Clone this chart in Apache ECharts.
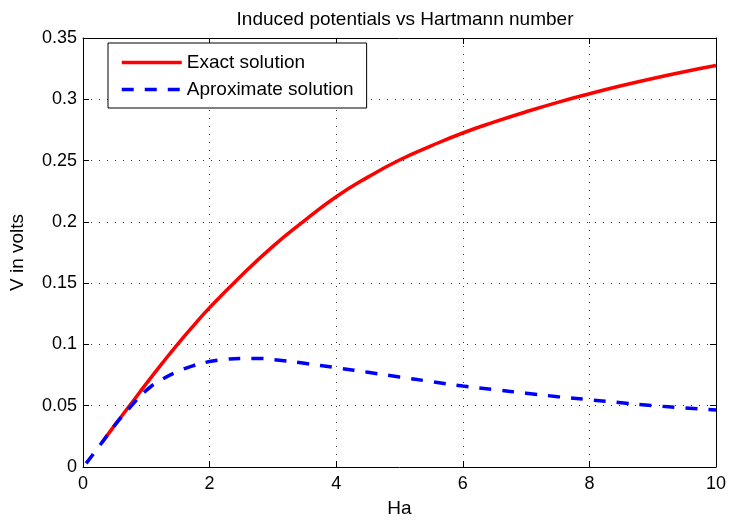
<!DOCTYPE html>
<html>
<head>
<meta charset="utf-8">
<script src="https://cdn.jsdelivr.net/npm/echarts@6/dist/echarts.min.js"></script>
<style>html,body{margin:0;padding:0;background:#fff}#c{width:729px;height:523px}</style>
</head>
<body>
<div id="c"></div>
<script>
var titleText = 'Induced potentials vs Hartmann number';
var xName = 'Ha';
var yName = 'V in volts';
var seriesNames = ['Exact solution', 'Aproximate solution'];
var xTicks = [0, 2, 4, 6, 8, 10];
var yTicks = [0, 0.05, 0.1, 0.15, 0.2, 0.25, 0.3, 0.35];

var haExact = [0.3, 0.5, 0.75, 1.0, 1.25, 1.5, 1.75, 2.0, 2.5, 3.0, 3.5, 4.0, 4.5, 5.0, 5.5, 6.0, 6.5, 7.0, 7.5, 8.0, 8.5, 9.0, 9.5, 10.0];
var vExact  = [0.020, 0.034, 0.051, 0.068, 0.0845, 0.1005, 0.1155, 0.1300, 0.1560, 0.1800, 0.2010, 0.2205, 0.2365, 0.2505, 0.2620, 0.2725, 0.2815, 0.2898, 0.2975, 0.3045, 0.3110, 0.3170, 0.3225, 0.3275];

var haApprox = [0.05, 0.3, 0.5, 0.75, 1.0, 1.25, 1.5, 1.75, 2.0, 2.25, 2.5, 2.75, 3.0, 3.5, 4.0, 4.5, 5.0, 5.5, 6.0, 6.5, 7.0, 7.5, 8.0, 8.5, 9.0, 9.5, 10.0];
var vApprox  = [0.003, 0.020, 0.034, 0.049, 0.0625, 0.0715, 0.0780, 0.0828, 0.0860, 0.0878, 0.0886, 0.0886, 0.0877, 0.0846, 0.0810, 0.0773, 0.0734, 0.0697, 0.0660, 0.0631, 0.0602, 0.0574, 0.0549, 0.0524, 0.0501, 0.0482, 0.0465];

function pairs(xs, ys) { return xs.map(function (x, i) { return [x, ys[i]]; }); }

var FONT = 'Liberation Sans';
var chart = echarts.init(document.getElementById('c'), null, {renderer: 'canvas'});
var gridDots = {show: true, lineStyle: {color: '#333', width: 1, type: [1, 7]}};
var axisLineBlack = {show: true, onZero: false, lineStyle: {color: '#000', width: 1}};
var tickIn = {show: true, inside: true, length: 6, lineStyle: {color: '#000'}};

chart.setOption({
  animation: false,
  backgroundColor: '#fff',
  title: {
    text: titleText, left: 400, top: 5, textAlign: 'center',
    textStyle: {fontFamily: FONT, fontSize: 19, fontWeight: 'normal', color: '#000'}
  },
  grid: {left: 83, right: 12, top: 38, bottom: 56, containLabel: false},
  legend: {
    orient: 'vertical', left: 108, top: 43,
    data: seriesNames,
    itemWidth: 60, itemHeight: 14, itemGap: 8,
    padding: [10, 13, 9, 12],
    borderColor: '#000', borderWidth: 1, backgroundColor: '#fff',
    itemStyle: {opacity: 0},
    lineStyle: {width: 3.5},
    textStyle: {fontFamily: FONT, fontSize: 19, color: '#000'}
  },
  xAxis: [{
    type: 'value', min: xTicks[0], max: xTicks[xTicks.length - 1], interval: 2,
    position: 'bottom',
    name: xName, nameLocation: 'middle', nameGap: 32,
    nameTextStyle: {fontFamily: FONT, fontSize: 19, color: '#000'},
    axisLine: axisLineBlack, axisTick: tickIn,
    axisLabel: {fontFamily: FONT, fontSize: 18, color: '#000', margin: 8},
    splitLine: gridDots
  }, {
    type: 'value', min: xTicks[0], max: xTicks[xTicks.length - 1], interval: 2,
    position: 'top',
    axisLine: axisLineBlack, axisTick: tickIn,
    axisLabel: {show: false}, splitLine: {show: false}
  }],
  yAxis: [{
    type: 'value', min: yTicks[0], max: yTicks[yTicks.length - 1], interval: 0.05,
    position: 'left',
    name: yName, nameLocation: 'middle', nameGap: 56,
    nameTextStyle: {fontFamily: FONT, fontSize: 19, color: '#000'},
    axisLine: axisLineBlack, axisTick: tickIn,
    axisLabel: {fontFamily: FONT, fontSize: 18, color: '#000', margin: 6},
    splitLine: gridDots
  }, {
    type: 'value', min: yTicks[0], max: yTicks[yTicks.length - 1], interval: 0.05,
    position: 'right',
    axisLine: axisLineBlack, axisTick: tickIn,
    axisLabel: {show: false}, splitLine: {show: false}
  }],
  series: [{
    name: seriesNames[0], type: 'line', data: pairs(haExact, vExact),
    showSymbol: false, symbol: 'none', smooth: 0.5,
    lineStyle: {color: '#ff0000', width: 3.5, type: 'solid'},
    itemStyle: {color: '#ff0000'}, z: 2
  }, {
    name: seriesNames[1], type: 'line', data: pairs(haApprox, vApprox),
    showSymbol: false, symbol: 'none', smooth: 0.5,
    lineStyle: {color: '#0000ff', width: 3.5, type: [12, 11], cap: 'butt'},
    itemStyle: {color: '#0000ff'}, z: 3
  }]
});
</script>
</body>
</html>
